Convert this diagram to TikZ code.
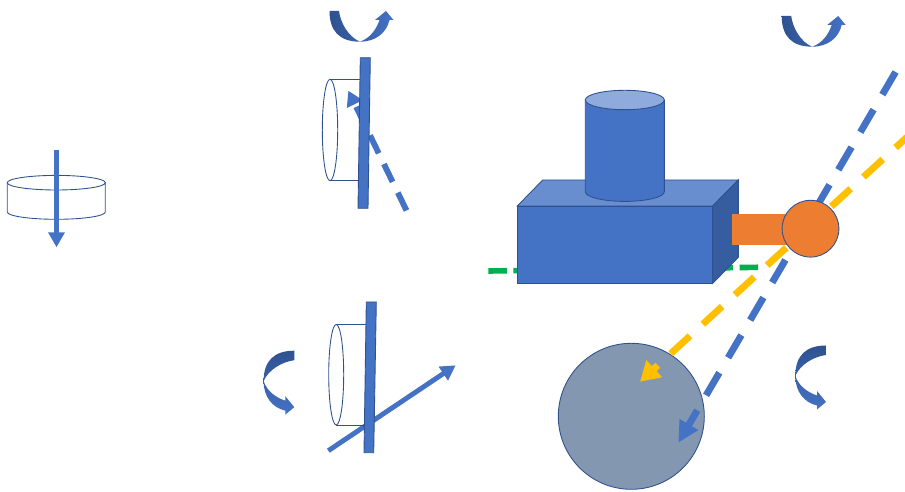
\documentclass[tikz,border=0pt]{standalone}
\usepackage{xcolor}
\usetikzlibrary{arrows.meta}
\definecolor{mainblue}{HTML}{4472C4}
\definecolor{edgeblue}{HTML}{2F528F}
\definecolor{topblue}{HTML}{698ED0}
\definecolor{sideblue}{HTML}{355D9F}
\definecolor{capblue}{HTML}{8FAADC}
\definecolor{ballorange}{HTML}{ED7D31}
\definecolor{rayyellow}{HTML}{FFC000}
\definecolor{raygreen}{HTML}{00B050}
\definecolor{targetgrey}{HTML}{8497B0}
\tikzset{
  outline/.style={draw=edgeblue, line width=0.5pt},
  solidray/.style={draw=mainblue, line width=2.8pt, -{Triangle[length=8.5pt,width=9pt]}},
  dashray/.style={line width=3.9pt, dash pattern=on 14.9pt off 9.9pt},
  turnarrow/.pic={
    \shade[top color=edgeblue, bottom color=mainblue, shading angle=#1]
      (0,0) .. controls (0,20) and (10,30.7) .. (30.5,30.7)
      .. controls (46,30.7) and (57,22) .. (60,9)
      -- (64,9) -- (56.5,0) -- (45.5,9) -- (50,9)
      .. controls (47,18) and (41,27) .. (30.5,30.7)
      .. controls (19,26) and (11,12) .. (9.5,0) -- cycle;
  }
}
\begin{document}
\begin{tikzpicture}[x=0.02cm, y=-0.02cm]
\clip (0,0) rectangle (905,492);
% ---- left: disc with axis ----
\draw[outline] (7.3,182.7) -- (7.3,212) arc[start angle=180, end angle=0, x radius=49, y radius=7.3] -- (105.3,182.7);
\draw[outline] (56.3,182.7) ellipse (49 and 7.3);
\coordinate (axisA) at (56.5,150);
\coordinate (axisB) at (56.5,247.3);
\draw[solidray] (axisA) -- (axisB);
% ---- upper middle: lens and plate, dashed ray ----
\coordinate (upperA) at (406.5,210.5);
\coordinate (upperB) at (348.3,90.7);
\draw[mainblue, line width=3.3pt, dash pattern=on 11.3pt off 6.8pt, -{Triangle[length=8.5pt,width=9.5pt]}] (upperA) -- (upperB);
\draw[outline] (330,79.5) -- (360,79.5);
\draw[outline] (330,180.5) -- (360,180.5);
\draw[outline] (330,130) ellipse (7.7 and 50.7);
\fill[mainblue, outline] (360.3,57.7) -- (370.3,57.7) -- (368,208.3) -- (358,208.3) -- cycle;
\pic at (329.5,11) {turnarrow=90};
% ---- lower middle: lens and plate, solid ray ----
\coordinate (lowerA) at (328.3,450.7);
\coordinate (lowerB) at (455.7,365.3);
\draw[solidray] (lowerA) -- (lowerB);
\draw[outline] (336.2,324.4) -- (366,324.4);
\draw[outline] (336.2,425) -- (365,425);
\draw[outline] (336.2,374.7) ellipse (7.5 and 50.3);
\fill[mainblue, outline] (366.3,302) -- (376.3,302) -- (373.7,452.7) -- (364,452.7) -- cycle;
\pic[rotate=-90] at (294.3,350.7) {turnarrow=0};
% ---- right: target, machine body and rays ----
\fill[targetgrey, outline] (631.3,416.3) circle (73);
\coordinate (greenA) at (488.3,271);
\coordinate (greenB) at (758.3,267.3);
\draw[raygreen, line width=3.2pt, dash pattern=on 10.6pt off 3.7pt] (greenA) -- (greenB);
\fill[mainblue, outline] (517.3,206) rectangle (712.7,283.3);
\fill[topblue, outline] (517.3,206) -- (542.7,180) -- (738.3,180) -- (712.7,206) -- cycle;
\fill[sideblue, outline] (712.7,206) -- (738.3,180) -- (738.3,257.3) -- (712.7,283.3) -- cycle;
\fill[mainblue, outline] (585.3,100) -- (585.3,191.7) arc[start angle=180, end angle=0, x radius=39.5, y radius=9.7] -- (664.3,100) -- cycle;
\fill[capblue, outline] (624.8,100) ellipse (39.5 and 9.7);
\coordinate (blueA) at (895.6,72);
\coordinate (blueB) at (678.3,442.7);
\coordinate (yellowA) at (914.9,129.9);
\coordinate (yellowB) at (640,381.7);
\draw[dashray, mainblue, -{Triangle[length=12pt,width=11.5pt]}] (blueA) -- (blueB);
\draw[dashray, rayyellow, -{Triangle[length=11pt,width=12.5pt]}] (yellowA) -- (yellowB);
\fill[ballorange] (732,214.3) rectangle (790,245.3);
\fill[ballorange, outline] (810.5,228.7) circle (28.4);
\pic at (781.7,16) {turnarrow=90};
\pic[rotate=-90] at (826,345.5) {turnarrow=0};
\end{tikzpicture}
\end{document}
